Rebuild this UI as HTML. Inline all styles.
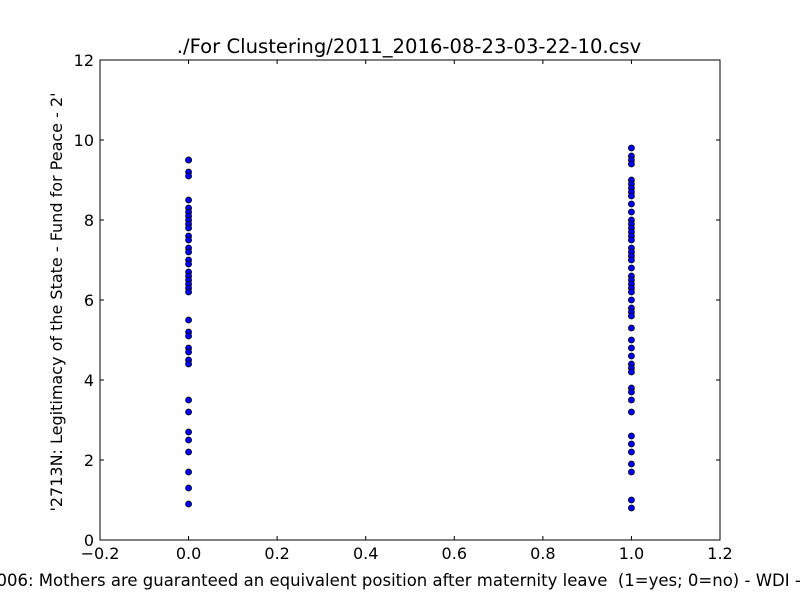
<!DOCTYPE html>
<html><head><meta charset="utf-8"><style>body{margin:0;background:#fff}svg{display:block}text{font-family:"DejaVu Sans","Liberation Sans",sans-serif}</style></head>
<body>
<svg id="chart" width="800" height="600" xmlns="http://www.w3.org/2000/svg">
<rect width="800" height="600" fill="#fff"/>
<text x="409" y="53" text-anchor="middle" font-size="19.6">./For Clustering/2011_2016-08-23-03-22-10.csv</text>
<g id="marks"></g>
<rect x="100" y="60" width="620" height="480" fill="none" stroke="#000" stroke-width="1"/>
<g id="axes"></g>
<text x="-14" y="586" font-size="16.5" xml:space="preserve">2006: Mothers are guaranteed an equivalent position after maternity leave  (1=yes; 0=no) - WDI - 2006'</text>
<text transform="translate(62,302) rotate(-90)" text-anchor="middle" font-size="16">'2713N: Legitimacy of the State - Fund for Peace - 2'</text>
</svg>
<script>
const xTicks=[-0.2,0,0.2,0.4,0.6,0.8,1.0,1.2];
const xTickLabels=["\u22120.2","0.0","0.2","0.4","0.6","0.8","1.0","1.2"];
const yTicks=[0,2,4,6,8,10,12];
const yTickLabels=["0","2","4","6","8","10","12"];
const group0=[9.5,9.5,9.2,9.1,8.5,8.3,8.2,8.1,8.0,7.9,7.8,7.6,7.5,7.3,7.2,7.0,6.9,6.7,6.6,6.5,6.4,6.3,6.2,5.5,5.2,5.1,4.8,4.7,4.5,4.4,3.5,3.2,2.7,2.5,2.2,1.7,1.3,0.9];
const group1=[9.8,9.6,9.5,9.4,9.0,8.9,8.8,8.7,8.6,8.4,8.2,8.0,7.9,7.8,7.7,7.6,7.5,7.3,7.2,7.1,7.0,6.8,6.6,6.5,6.4,6.3,6.2,6.0,5.8,5.7,5.6,5.3,5.0,4.8,4.6,4.4,4.3,4.2,3.8,3.7,3.5,3.2,2.6,2.4,2.2,1.9,1.7,1.0,0.8];
const NS="http://www.w3.org/2000/svg";
const X=v=>100+(v+0.2)/1.4*620, Y=v=>540-v/12*480;
const marks=document.getElementById('marks'), axes=document.getElementById('axes');
function pts(arr,xv){arr.forEach(v=>{const c=document.createElementNS(NS,'circle');


c.setAttribute('cx',X(xv));c.setAttribute('cy',Y(v));c.setAttribute('r',3);c.setAttribute('fill','#0000ff');c.setAttribute('stroke','#000');c.setAttribute('stroke-width','0.8');marks.appendChild(c);});}
pts(group0,0);pts(group1,1);
function ln(x1,y1,x2,y2){const l=document.createElementNS(NS,'line');l.setAttribute('x1',x1);l.setAttribute('y1',y1);l.setAttribute('x2',x2);l.setAttribute('y2',y2);l.setAttribute('stroke','#000');


axes.appendChild(l);}
function tx(x,y,s,a){const t=document.createElementNS(NS,'text');t.setAttribute('x',x);t.setAttribute('y',y);t.setAttribute('text-anchor',a);t.setAttribute('font-size','16');t.textContent=s;


axes.appendChild(t);}
xTicks.forEach((v,i)=>{const x=X(v);ln(x,540,x,536);ln(x,60,x,64);tx(x,559,xTickLabels[i],'middle');});
yTicks.forEach((v,i)=>{const y=Y(v);ln(100,y,104,y);ln(720,y,716,y);tx(94,y+6,yTickLabels[i],'end');});
</script>
</body></html>
